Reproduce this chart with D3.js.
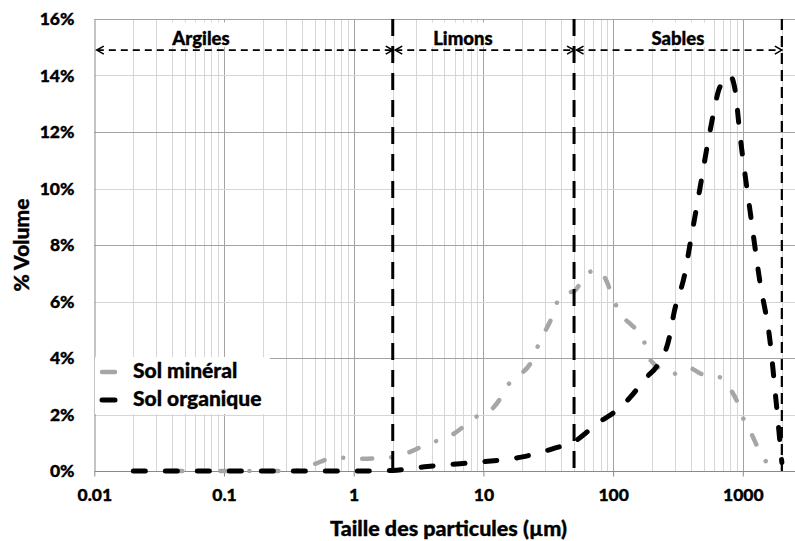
<!DOCTYPE html>
<html>
<head>
<meta charset="utf-8">
<script src="https://cdn.jsdelivr.net/npm/d3@7/dist/d3.min.js"></script>
<style>
  html, body { margin: 0; padding: 0; background: #fff; }
  svg { display: block; font-family: Lato, "Open Sans", sans-serif; font-weight: 900; }
  svg text { stroke: #000; stroke-width: 0.35px; paint-order: stroke; }
</style>
</head>
<body>
<svg id="chart" width="795" height="541"></svg>
<script>
// ---------- data ----------
const mineralSize = [0.04, 0.1, 0.2, 0.34, 0.5, 0.68, 0.89, 1.2, 1.6, 2, 2.87, 3.8, 5, 6.5, 8.3, 10.7, 13.2, 15.2, 19.1, 23.3, 25.9, 28.8, 33.8, 37.6, 43, 50, 58.5, 70, 76, 89.5, 100, 117, 140, 170, 186, 218, 287, 383, 482, 655, 809, 916, 1021, 1178, 1334, 1563, 1600];
const mineralPct  = [0, 0, 0, 0, 0.25, 0.45, 0.47, 0.43, 0.46, 0.5, 0.72, 1.0, 1.13, 1.45, 1.87, 2.05, 2.5, 3.0, 3.4, 3.85, 4.35, 4.8, 5.45, 6.05, 6.3, 6.36, 6.79, 7.1, 7.12, 6.7, 6.1, 5.5, 5.15, 4.7, 4.1, 3.7, 3.43, 3.65, 3.43, 3.33, 2.87, 2.4, 1.8, 1.27, 0.74, 0.25, 0.2];

const organicSize = [0.02, 0.04, 0.08, 0.15, 0.3, 0.6, 1.2, 2, 3.7, 6.6, 10, 20, 35, 50, 79, 100, 135, 182, 217, 272, 295, 358, 391, 467, 557, 667, 796, 871, 951, 1135, 1355, 1621, 1803, 2000];
const organicPct  = [0, 0, 0, 0, 0, 0, 0, 0.02, 0.16, 0.26, 0.33, 0.5, 0.8, 1.04, 1.75, 2.05, 2.6, 3.33, 3.7, 4.75, 5.6, 7.0, 8.0, 10.0, 12.0, 13.6, 14.0, 13.5, 11.9, 9.24, 6.7, 4.6, 2.5, 0.3];

const seriesNames = ["Sol minéral", "Sol organique"];

const xTickValues = [0.01, 0.1, 1, 10, 100, 1000];
const xTickLabels = ["0.01", "0.1", "1", "10", "100", "1000"];
const yTickValues = [0, 0.02, 0.04, 0.06, 0.08, 0.10, 0.12, 0.14, 0.16];
const yTickLabels = ["0%", "2%", "4%", "6%", "8%", "10%", "12%", "14%", "16%"];

const zoneNames   = ["Argiles", "Limons", "Sables"];
const zoneBounds  = [0.01, 2, 50, 2000];
const zoneLabelAt = [0.0665, 6.95, 316];
const zoneArrowLevel = 0.149;

const xTitle = "Taille des particules (µm)";
const yTitle = "% Volume";

// ---------- layout ----------
const W = 795, H = 541;
const pLeft = 94.3, decade = 129.7, pTop = 19, pBottom = 471;
const x = d3.scaleLog().domain([0.01, 10000]).range([pLeft, pLeft + 6 * decade]);
const y = d3.scaleLinear().domain([0, 0.16]).range([pBottom, pTop]);

const svg = d3.select("#chart");
const gMajor = "#a3a3a3", gMinor = "#d6d6d6", axisCol = "#8a8a8a";

// vertical grid
const vGrid = [];
for (let e = -2; e <= 3; e++) {
  for (let k = 1; k <= 9; k++) {
    const v = k * Math.pow(10, e);
    if (x(v) <= W + 1) vGrid.push({ v, major: k === 1 });
  }
}
svg.append("g").selectAll("line").data(vGrid.filter(d => d.v > 0.01)).join("line")
  .attr("x1", d => Math.round(x(d.v)) + 0.5).attr("x2", d => Math.round(x(d.v)) + 0.5)
  .attr("y1", pTop).attr("y2", pBottom)
  .attr("stroke", d => d.major ? gMajor : gMinor).attr("stroke-width", 1);

// horizontal grid
const hGrid = yTickValues.filter(v => v > 0);
svg.append("g").selectAll("line").data(hGrid).join("line")
  .attr("x1", pLeft).attr("x2", W)
  .attr("y1", d => Math.round(y(d)) + 0.5).attr("y2", d => Math.round(y(d)) + 0.5)
  .attr("stroke", d => Math.round(d * 100) % 4 === 0 ? gMajor : gMinor).attr("stroke-width", 1);

// axes
const xAxis = d3.axisBottom(x).tickValues(xTickValues).tickFormat((d, i) => xTickLabels[i]).tickSize(5).tickPadding(12);
const gx = svg.append("g").attr("transform", `translate(0,${Math.round(pBottom) + 0.5})`).call(xAxis);
gx.select(".domain").attr("stroke", axisCol).attr("d", `M${pLeft},0H${W}`);
gx.selectAll(".tick line").attr("stroke", axisCol);
gx.selectAll(".tick text").attr("fill", "#000").style("font-size", "17.5px").style("font-family", "Lato").style("font-weight", "900");

const yAxis = d3.axisLeft(y).tickValues(yTickValues).tickFormat((d, i) => yTickLabels[i]).tickSize(0).tickPadding(20);
const gy = svg.append("g").attr("transform", `translate(${Math.round(pLeft) + 0.5},0)`).call(yAxis);
gy.select(".domain").attr("stroke", axisCol);
gy.selectAll(".tick text").attr("fill", "#000").style("font-size", "17.5px").style("font-family", "Lato").style("font-weight", "900");

// axis titles
svg.append("text").attr("x", 448.5).attr("y", 536).attr("text-anchor", "middle")
  .style("font-size", "21.5px").text(xTitle);
svg.append("text").attr("transform", `translate(29,245) rotate(-90)`).attr("text-anchor", "middle")
  .style("font-size", "21px").text(yTitle);

// series
const line = d3.line().x(d => x(d[0])).y(d => y(d[1] / 100)).curve(d3.curveMonotoneX);
const mineral = mineralSize.map((s, i) => [s, mineralPct[i]]);
const organic = organicSize.map((s, i) => [s, organicPct[i]]);

svg.append("path").datum(mineral).attr("d", line)
  .attr("fill", "none").attr("stroke", "#a6a6a6").attr("stroke-width", 4.5)
  .attr("stroke-linecap", "round").attr("stroke-dasharray", "10,19,0.01,19");
svg.append("path").datum(organic).attr("d", line)
  .attr("fill", "none").attr("stroke", "#000").attr("stroke-width", 5)
  .attr("stroke-linecap", "round").attr("stroke-dasharray", "12,20");

// zone separators
svg.append("g").selectAll("line").data(zoneBounds.slice(1)).join("line")
  .attr("x1", d => x(d)).attr("x2", d => x(d))
  .attr("y1", pTop).attr("y2", pBottom)
  .attr("stroke", "#000")
  .attr("stroke-width", (d, i) => i < 2 ? 3 : 2.2)
  .attr("stroke-dasharray", (d, i) => i < 2 ? "17,10" : "11,6");

// zone arrows
const ay = y(zoneArrowLevel);
const zones = zoneNames.map((n, i) => ({ name: n, a: zoneBounds[i], b: zoneBounds[i + 1], at: zoneLabelAt[i] }));
const gz = svg.append("g");
zones.forEach(z => {
  const xa = x(z.a) + 2.5, xb = x(z.b);
  gz.append("line").attr("x1", xa).attr("x2", xb).attr("y1", ay).attr("y2", ay)
    .attr("stroke", "#000").attr("stroke-width", 1.6).attr("stroke-dasharray", "7,5");
  gz.append("path").attr("d", `M${xa + 7},${ay - 4}L${xa},${ay}L${xa + 7},${ay + 4}`)
    .attr("fill", "none").attr("stroke", "#000").attr("stroke-width", 1.6);
  gz.append("path").attr("d", `M${xb - 7},${ay - 4}L${xb},${ay}L${xb - 7},${ay + 4}`)
    .attr("fill", "none").attr("stroke", "#000").attr("stroke-width", 1.6);
  const t = gz.append("text").attr("x", x(z.at)).attr("y", 44.5).attr("text-anchor", "middle")
    .style("font-size", "18.5px").text(z.name);
  const bb = t.node().getBBox();
  gz.insert("rect", () => t.node()).attr("x", bb.x - 4).attr("y", 22.5).attr("width", bb.width + 8).attr("height", 24.5).attr("fill", "#fff");
});

// legend
const lg = svg.append("g");
lg.append("rect").attr("x", 95).attr("y", 357).attr("width", 175).attr("height", 57).attr("fill", "#fff");
const legendItems = [
  { name: seriesNames[0], color: "#a6a6a6", w: 4.5, ly: 372, ty: 378 },
  { name: seriesNames[1], color: "#000", w: 5, ly: 400, ty: 406 }
];
legendItems.forEach(it => {
  lg.append("line").attr("x1", 102).attr("x2", 115).attr("y1", it.ly).attr("y2", it.ly)
    .attr("stroke", it.color).attr("stroke-width", it.w).attr("stroke-linecap", "round");
  lg.append("text").attr("x", 133).attr("y", it.ty).style("font-size", "21px").text(it.name);
});
</script>
</body>
</html>
